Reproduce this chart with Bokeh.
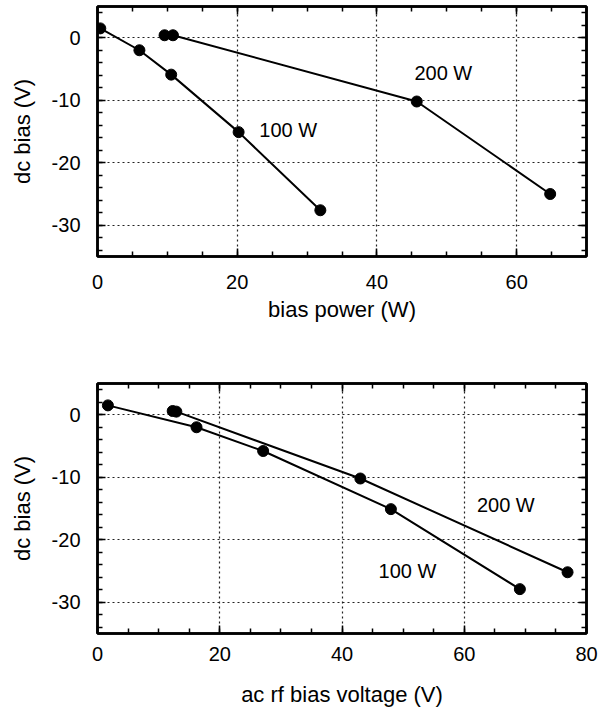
from bokeh.plotting import figure
from bokeh.layouts import column
from bokeh.models import Range1d, FixedTicker, LinearAxis
from bokeh.core.properties import value
from bokeh.embed import file_html
from bokeh.resources import INLINE

# ---- data ----
# top panel: dc bias vs bias power
top_100_x = [0.4, 6.0, 10.55, 20.2, 31.9]
top_100_y = [1.5, -2.0, -5.9, -15.1, -27.6]
top_200_x = [9.6, 10.8, 45.7, 64.8]
top_200_y = [0.4, 0.4, -10.2, -25.0]
top_label_x = [27.3, 49.5]
top_label_y = [-14.7, -5.6]
top_label_text = ["100 W", "200 W"]

# bottom panel: dc bias vs ac rf bias voltage
bot_100_x = [1.7, 16.2, 27.1, 48.0, 69.1]
bot_100_y = [1.5, -2.0, -5.8, -15.1, -27.9]
bot_200_x = [12.3, 12.9, 43.0, 76.9]
bot_200_y = [0.6, 0.5, -10.2, -25.2]
bot_label_x = [50.7, 66.8]
bot_label_y = [-25.0, -14.5]
bot_label_text = ["100 W", "200 W"]

top_x_ticks = [0, 20, 40, 60]
bot_x_ticks = [0, 20, 40, 60, 80]
y_ticks = [-30, -20, -10, 0]
y_tick_labels = ["-30", "-20", "-10", "0"]
top_x_minor = list(range(0, 71, 5))
bot_x_minor = list(range(0, 81, 5))
y_minor = list(range(-34, 5, 2))

FONT = "Liberation Sans"


def style_axis(ax, ticks, show_labels=True):
    ax.axis_line_color = "black"
    ax.axis_line_width = 2.5
    ax.major_tick_in = 8
    ax.major_tick_out = 0
    ax.minor_tick_in = 5
    ax.minor_tick_out = 0
    ax.major_tick_line_color = "black"
    ax.minor_tick_line_color = "black"
    ax.major_tick_line_width = 1.5
    ax.minor_tick_line_width = 1.5
    ax.major_label_text_font = FONT
    ax.axis_label_text_font = FONT
    ax.axis_label_text_font_style = "normal"
    ax.axis_label_text_color = "black"
    ax.major_label_text_color = "black"
    if not show_labels:
        # mirror axis: ticks only, no tick labels
        ax.major_label_overrides = {t: "" for t in ticks}
        ax.major_label_text_font_size = "1px"
        ax.major_label_standoff = 0
        ax.axis_label = None


def make_panel(xmax, xticks, xminor, xlabel, s100, s200, labels,
               width, height, bl, bt, br, bb, x_standoff, xlab_standoff):
    p = figure(width=width, height=height, output_backend="svg",
               toolbar_location=None,
               x_range=Range1d(0, xmax), y_range=Range1d(-35, 5),
               min_border_left=bl, min_border_top=bt,
               min_border_right=br, min_border_bottom=bb)
    p.background_fill_color = "white"
    p.border_fill_color = "white"
    p.outline_line_color = "black"
    p.outline_line_width = 2.5

    xt = FixedTicker(ticks=xticks, minor_ticks=xminor)
    yt = FixedTicker(ticks=y_ticks, minor_ticks=y_minor)

    p.xaxis.ticker = xt
    p.yaxis.ticker = yt
    p.xaxis.axis_label = xlabel
    p.yaxis.axis_label = "dc bias (V)"
    p.yaxis.major_label_overrides = {t: l for t, l in zip(y_ticks, y_tick_labels)}
    style_axis(p.xaxis[0], xticks)
    style_axis(p.yaxis[0], y_ticks)
    p.xaxis.major_label_text_font_size = "20px"
    p.yaxis.major_label_text_font_size = "20px"
    p.xaxis.axis_label_text_font_size = "22px"
    p.yaxis.axis_label_text_font_size = "22px"
    p.xaxis.major_label_standoff = x_standoff
    p.xaxis.axis_label_standoff = xlab_standoff
    p.yaxis.major_label_standoff = 17
    p.yaxis.axis_label_standoff = 14

    top_ax = LinearAxis(ticker=xt)
    right_ax = LinearAxis(ticker=yt)
    style_axis(top_ax, xticks, show_labels=False)
    style_axis(right_ax, y_ticks, show_labels=False)
    p.add_layout(top_ax, "above")
    p.add_layout(right_ax, "right")

    for g in (p.xgrid[0], p.ygrid[0]):
        g.grid_line_color = "#222222"
        g.grid_line_dash = "2 3"
        g.grid_line_width = 1.2
    p.xgrid.ticker = xt
    p.ygrid.ticker = yt

    for sx, sy in (s100, s200):
        p.line(sx, sy, line_color="black", line_width=2)
        p.scatter(sx, sy, size=11, fill_color="black", line_color="black")

    lx, ly, lt = labels
    p.text(lx, ly, text=lt, text_font=value(FONT), text_font_size="20px",
           text_align="center", text_baseline="middle", text_color="black")
    return p


p1 = make_panel(70, top_x_ticks, top_x_minor, "bias power (W)",
                (top_100_x, top_100_y), (top_200_x, top_200_y),
                (top_label_x, top_label_y, top_label_text),
                width=602, height=340, bl=97, bt=6, br=13, bb=84,
                x_standoff=18, xlab_standoff=5)
p2 = make_panel(80, bot_x_ticks, bot_x_minor, "ac rf bias voltage (V)",
                (bot_100_x, bot_100_y), (bot_200_x, bot_200_y),
                (bot_label_x, bot_label_y, bot_label_text),
                width=602, height=370, bl=97, bt=43, br=16, bb=77,
                x_standoff=13, xlab_standoff=18)

layout = column(p1, p2, spacing=0)
open("out.html", "w").write(file_html(layout, INLINE))
